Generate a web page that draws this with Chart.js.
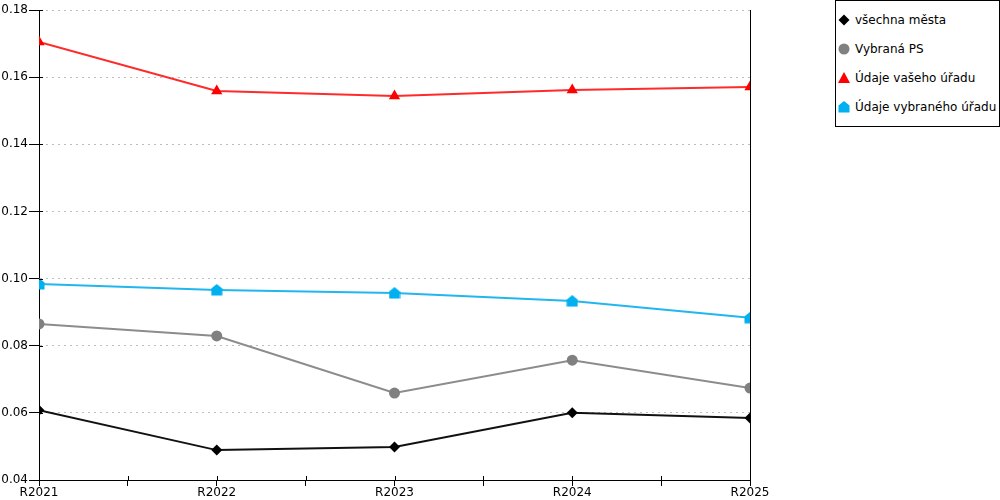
<!DOCTYPE html>
<html>
<head>
<meta charset="utf-8">
<script src="https://cdn.jsdelivr.net/npm/chart.js@4"></script>
<style>
  html, body { margin: 0; padding: 0; background: #fff; }
  #wrap { position: relative; width: 1000px; height: 500px; font-family: "DejaVu Sans", Verdana, sans-serif; }
  #chart { position: absolute; left: 0; top: 0; }
  #legend { position: absolute; left: 835px; top: 0; width: 163px; height: 125px; border: 1px solid #000; background: #fff; }
  .item { position: absolute; left: 0; height: 16px; font-size: 12px; line-height: 16px; color: #000; white-space: nowrap; }
  .item canvas { position: absolute; left: 1px; top: 0; }
  .item span { position: absolute; left: 19px; top: 0; }
</style>
</head>
<body>
<div id="wrap">
  <canvas id="chart" width="1000" height="500"></canvas>
  <div id="legend"></div>
</div>
<script>
const years = ['R2021', 'R2022', 'R2023', 'R2024', 'R2025'];
const seriesNames = ['všechna města', 'Vybraná PS', 'Údaje vašeho úřadu', 'Údaje vybraného úřadu'];
const vsechnaMesta = [0.0608, 0.0489, 0.0498, 0.0600, 0.0585];
const vybranaPS = [0.0865, 0.0829, 0.0659, 0.0757, 0.0674];
const udajeVasehoUradu = [0.1705, 0.1559, 0.1544, 0.1562, 0.1571];
const udajeVybranehoUradu = [0.0984, 0.0966, 0.0957, 0.0933, 0.0883];
const yTicks = { min: 0.04, max: 0.18, step: 0.02 };

function drawMarker(ctx, kind, cx, cy, color) {
  ctx.fillStyle = color;
  ctx.beginPath();
  if (kind === 'diamond') {
    ctx.moveTo(cx, cy - 5.5); ctx.lineTo(cx + 5.5, cy); ctx.lineTo(cx, cy + 5.5); ctx.lineTo(cx - 5.5, cy);
  } else if (kind === 'circle') {
    ctx.arc(cx, cy, 5.5, 0, Math.PI * 2);
  } else if (kind === 'triangle') {
    ctx.moveTo(cx, cy - 6); ctx.lineTo(cx + 6, cy + 5); ctx.lineTo(cx - 6, cy + 5);
  } else {
    ctx.moveTo(cx, cy - 6); ctx.lineTo(cx + 5.5, cy - 1.5); ctx.lineTo(cx + 5.5, cy + 5.5);
    ctx.lineTo(cx - 5.5, cy + 5.5); ctx.lineTo(cx - 5.5, cy - 1.5);
  }
  ctx.closePath();
  ctx.fill();
}

function houseSprite(color) {
  const c = document.createElement('canvas');
  c.width = 12; c.height = 12;
  drawMarker(c.getContext('2d'), 'house', 6, 6, color);
  return c;
}

const styles = [
  { line: '#111111', point: '#000000', kind: 'diamond', pointStyle: 'rectRot', radius: 5.5 },
  { line: '#8c8c8c', point: '#808080', kind: 'circle', pointStyle: 'circle', radius: 5.5 },
  { line: '#ff2a2a', point: '#ff0000', kind: 'triangle', pointStyle: 'triangle', radius: 6.5 },
  { line: '#22b6ee', point: '#00b0f0', kind: 'house', pointStyle: null, radius: 6 }
];
styles[3].pointStyle = houseSprite(styles[3].point);

const values = [vsechnaMesta, vybranaPS, udajeVasehoUradu, udajeVybranehoUradu];

const datasets = values.map((vals, k) => ({
  label: seriesNames[k],
  data: vals.map((v, i) => ({ x: i, y: v })),
  borderColor: styles[k].line,
  backgroundColor: styles[k].point,
  pointBackgroundColor: styles[k].point,
  pointBorderColor: styles[k].point,
  pointBorderWidth: 0,
  pointStyle: styles[k].pointStyle,
  pointRadius: styles[k].radius,
  borderWidth: 2,
  tension: 0,
  fill: false
}));

// tick marks cross the axis line by a few pixels into the plot
const innerTicks = {
  id: 'innerTicks',
  afterDraw(chart) {
    const { ctx, scales: { x, y } } = chart;
    ctx.save();
    ctx.strokeStyle = '#000';
    ctx.lineWidth = 1;
    ctx.beginPath();
    x.ticks.forEach(t => {
      const px = Math.round(x.getPixelForValue(t.value)) + 0.5;
      ctx.moveTo(px, x.top); ctx.lineTo(px, x.top - 4);
    });
    y.ticks.forEach(t => {
      const py = Math.round(y.getPixelForValue(t.value)) + 0.5;
      ctx.moveTo(y.right, py); ctx.lineTo(y.right + 4, py);
    });
    ctx.stroke();
    ctx.restore();
  }
};

new Chart(document.getElementById('chart').getContext('2d'), {
  type: 'line',
  data: { datasets },
  plugins: [innerTicks],
  options: {
    responsive: false,
    animation: false,
    devicePixelRatio: 1,
    layout: { padding: { left: 0, right: 250, top: 10, bottom: 0 } },
    plugins: { legend: { display: false }, tooltip: { enabled: false } },
    scales: {
      x: {
        type: 'linear',
        min: 0,
        max: years.length - 1,
        afterFit: s => { s.height = 20; },
        ticks: {
          stepSize: 0.5,
          autoSkip: false,
          maxRotation: 0,
          padding: 0,
          color: '#000',
          font: { family: '"DejaVu Sans", Verdana, sans-serif', size: 12 },
          callback: v => Number.isInteger(v) ? years[v] : ''
        },
        grid: { drawOnChartArea: false, tickLength: 6, color: '#000' },
        border: { color: '#000', width: 1 }
      },
      y: {
        min: yTicks.min,
        max: yTicks.max,
        afterFit: s => { s.width = 39; },
        ticks: {
          stepSize: yTicks.step,
          padding: 1,
          color: '#000',
          font: { family: '"DejaVu Sans", Verdana, sans-serif', size: 12 },
          callback: v => v.toFixed(2)
        },
        grid: {
          tickLength: 10,
          tickColor: '#000',
          color: c => (c.tick && Math.abs(c.tick.value - yTicks.min) < 1e-9) ? 'rgba(0,0,0,0)' : '#bdbdbd'
        },
        border: { color: '#000', width: 1, dash: [2, 4] }
      },
      yRight: {
        position: 'right',
        display: true,
        afterFit: s => { s.width = 0; },
        ticks: { display: false },
        grid: { display: false },
        border: { color: '#000', width: 1 }
      }
    }
  }
});

// legend
const legend = document.getElementById('legend');
seriesNames.forEach((name, k) => {
  const item = document.createElement('div');
  item.className = 'item';
  item.style.top = (11 + k * 29) + 'px';
  const c = document.createElement('canvas');
  c.width = 16; c.height = 16;
  drawMarker(c.getContext('2d'), styles[k].kind, 7, 8, styles[k].point);
  const t = document.createElement('span');
  t.textContent = name;
  item.appendChild(c);
  item.appendChild(t);
  legend.appendChild(item);
});
</script>
</body>
</html>
